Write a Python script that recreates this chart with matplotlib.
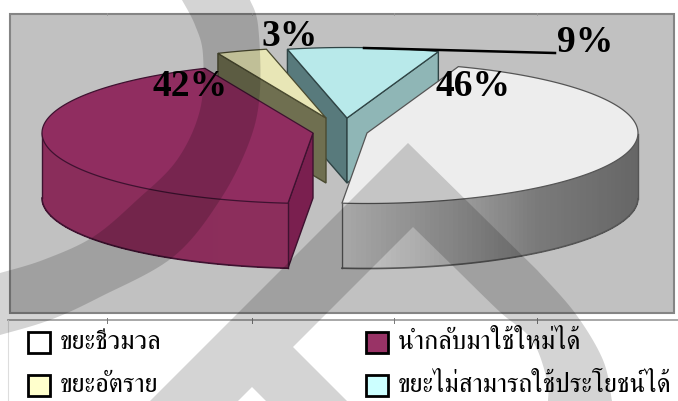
import numpy as np
import matplotlib
matplotlib.use("Agg")
import matplotlib.pyplot as plt
from matplotlib.patches import Polygon, Rectangle

# Slice data, clockwise from the first slice
categories = ["ขยะชีวมวล", "นำกลับมาใช้ใหม่ได้", "ขยะอัตราย", "ขยะไม่สามารถใช้ประโยชน์ได้"]
shares = [46, 42, 3, 9]
share_labels = ["46%", "42%", "3%", "9%"]
top_colors = ["#EDEDED", "#902D60", "#E8E6B6", "#B8E9EA"]
swatch_colors = ["#FFFFFF", "#993366", "#FFFFCC", "#CCFFFF"]

W, H = 678, 401
fig = plt.figure(figsize=(W / 100, H / 100), dpi=100)
ax = fig.add_axes([0, 0, 1, 1])
ax.set_xlim(0, W)
ax.set_ylim(H, 0)
ax.axis("off")

# Plot frame and the rule above the legend
ax.add_patch(Rectangle((10, 14), 664, 299, fc="#C1C1C1", ec="#858585", lw=1.5, zorder=1))
ax.plot([8, 678], [320, 320], color="#999999", lw=1.2, zorder=1)
ax.plot([8, 8], [320, 401], color="#DDDDDD", lw=0.8, zorder=1)
for x in (107, 252, 394, 537):
    ax.plot([x, x], [318, 322.5], color="#777777", lw=0.7, zorder=1)
    ax.plot([x, x], [12.5, 15], color="#999999", lw=0.6, zorder=1)

A, B, DEPTH = 271, 70.5, 65
BASE = (340, 133)
START = 70.3
offsets = [(27, 0), (-27, 0), (-14, -15), (7, -15)]
edge_colors = ["#555555", "#3E1230", "#4A4A30", "#2F4445"]

def rim(cx, cy, t):
    t = np.radians(t)
    return np.column_stack([cx + A * np.cos(t), cy - B * np.sin(t)])

# Outer wall brightness stops: fraction across the wall, then RGB
wall_stops = {
    0: ([0, 0.42, 0.65, 1], [(0.79, 0.79, 0.79), (0.60, 0.60, 0.60), (0.48, 0.48, 0.48), (0.40, 0.40, 0.40)]),
    1: ([0, 1], [(0.54, 0.175, 0.355), (0.55, 0.18, 0.36)]),
}
radial_wall = {3: {-1: "#587A7C", 1: "#8FB6B6"}, 2: {-1: "#6F6F50"}, 1: {-1: "#7A1F4F"}}

angles = [START]
for s in shares:
    angles.append(angles[-1] - s * 3.6)

# Painter's order: back slices first
z = 3
for i in [3, 2, 1, 0]:
    hi, lo = angles[i], angles[i + 1]
    cx, cy = BASE[0] + offsets[i][0], BASE[1] + offsets[i][1]
    ec = edge_colors[i]
    # radial walls that face the viewer
    for sign, t in ((-1, hi), (1, lo)):
        if sign * np.cos(np.radians(t)) > 0:
            p = rim(cx, cy, np.array([t]))[0]
            quad = [(cx, cy), tuple(p), (p[0], p[1] + DEPTH), (cx, cy + DEPTH)]
            ax.add_patch(Polygon(quad, fc=radial_wall[i][sign], ec=ec, lw=1, zorder=z))
    # outer wall, shaded in narrow strips
    if i in wall_stops:
        ts = np.linspace(lo, hi, 160)
        ts = ts[np.sin(np.radians(ts)) <= 0]
        pts = rim(cx, cy, ts)
        x0, x1 = pts[:, 0].min(), pts[:, 0].max()
        stops, cols = wall_stops[i]
        cols = np.array(cols)
        for j in range(len(ts) - 1):
            u = (pts[j, 0] - x0) / (x1 - x0)
            c = [np.interp(u, stops, cols[:, k]) for k in range(3)]
            q = [pts[j], pts[j + 1], pts[j + 1] + [0, DEPTH], pts[j] + [0, DEPTH]]
            ax.add_patch(Polygon(q, fc=c, ec="none", zorder=z, antialiased=False))
        ax.plot(pts[:, 0], pts[:, 1] + DEPTH, color=ec, lw=1.2, zorder=z + 0.1)
        for e in (0, -1):
            ax.plot([pts[e, 0]] * 2, [pts[e, 1], pts[e, 1] + DEPTH], color=ec, lw=1, zorder=z + 0.1)
    # top face
    ts = np.linspace(lo, hi, 120)
    top = np.vstack([[cx, cy], rim(cx, cy, ts)])
    ax.add_patch(Polygon(top, fc=top_colors[i], ec=ec, lw=0.9, zorder=z + 0.4))
    z += 1

# Logo shapes laid over the page
def smooth(points, n=12):
    p = np.array(points, float)
    p = np.vstack([p[0], p, p[-1]])
    out = []
    for k in range(1, len(p) - 2):
        for s in np.linspace(0, 1, n, endpoint=False):
            out.append(0.5 * (2 * p[k] + (p[k + 1] - p[k - 1]) * s
                              + (2 * p[k - 1] - 5 * p[k] + 4 * p[k + 1] - p[k + 2]) * s ** 2
                              + (3 * p[k] - p[k - 1] - 3 * p[k + 1] + p[k + 2]) * s ** 3))
    out.append(p[-2])
    return np.array(out)

left_curve = smooth([(182, 0), (195, 25), (203, 55), (200, 110), (177, 160), (137, 200), (93, 237), (43, 260), (0, 273)])
right_curve = smooth([(0, 335), (50, 320), (100, 297), (173, 257), (220, 200), (250, 140), (260, 90), (258, 25), (250, 0)])
ax.add_patch(Polygon(np.vstack([left_curve, right_curve]), fc="black", alpha=0.17, ec="none", zorder=20))

arm_out = smooth([(537, 270), (575, 313), (603, 360), (612, 401)])
arm_in = smooth([(548, 401), (547, 380), (532, 340), (500, 312), (457, 270)])
logo = np.vstack([[(150, 401), (408, 143)], arm_out, arm_in,
                  [(413, 227), (293, 347), (347, 401), (266, 401), (252, 387), (238, 401)]])
ax.add_patch(Polygon(logo, fc="black", alpha=0.17, ec="none", zorder=20))

# Percent labels and leader line
ax.plot([364, 555], [48, 53], color="black", lw=1.8, zorder=30)
label_pos = [(473.5, 86), (190, 86), (290, 36), (585, 42)]
for s, (x, y) in zip(share_labels, label_pos):
    ax.text(x, y, s, family="Liberation Serif", weight="bold", fontsize=27,
            ha="center", va="center", color="black", zorder=31)

# Legend
legend_pos = [(28, 332), (366, 332), (28, 375), (366, 375)]
for name, col, (x, y) in zip(categories, swatch_colors, legend_pos):
    ax.add_patch(Rectangle((x, y), 22, 21, fc=col, ec="black", lw=2, zorder=25))
    ax.text(x + 32, y + 11, name, family=["FreeSerif", "DejaVu Sans"], fontsize=19,
            va="center", ha="left", zorder=31)

fig.savefig("out.png", dpi=100)
